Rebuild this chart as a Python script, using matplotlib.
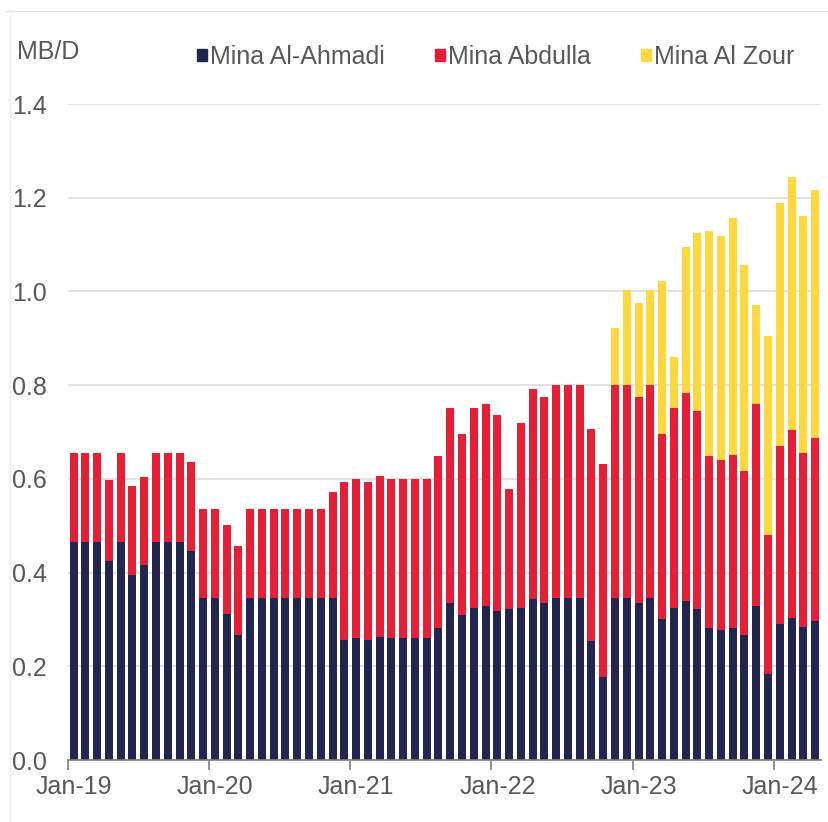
import matplotlib
matplotlib.use("Agg")
import matplotlib.pyplot as plt
from matplotlib.lines import Line2D
from matplotlib.patches import Patch
import numpy as np

# monthly values, Jan-19 .. Apr-24 (MB/D)
months = [f"{m}-{y}" for y in range(19, 25) for m in
          ["Jan", "Feb", "Mar", "Apr", "May", "Jun",
           "Jul", "Aug", "Sep", "Oct", "Nov", "Dec"]][:64]

ahmadi = [0.466, 0.466, 0.466, 0.424, 0.466, 0.394, 0.416, 0.466, 0.466, 0.466, 0.446, 0.346,
          0.346, 0.312, 0.267, 0.346, 0.346, 0.346, 0.346, 0.346, 0.346, 0.346, 0.346, 0.256,
          0.260, 0.256, 0.263, 0.260, 0.260, 0.260, 0.260, 0.281, 0.336, 0.310, 0.325, 0.328,
          0.318, 0.322, 0.325, 0.343, 0.336, 0.346, 0.346, 0.346, 0.253, 0.178, 0.346, 0.346,
          0.336, 0.346, 0.301, 0.325, 0.339, 0.322, 0.281, 0.277, 0.281, 0.266, 0.328, 0.183,
          0.291, 0.304, 0.284, 0.297]

# cumulative top of the red segment (Ahmadi + Abdulla)
abdulla_top = [0.656, 0.656, 0.656, 0.597, 0.656, 0.584, 0.605, 0.656, 0.656, 0.656, 0.636, 0.536,
               0.536, 0.502, 0.457, 0.536, 0.536, 0.536, 0.536, 0.536, 0.536, 0.536, 0.571, 0.593,
               0.600, 0.593, 0.607, 0.600, 0.600, 0.600, 0.600, 0.648, 0.752, 0.696, 0.752, 0.760,
               0.736, 0.578, 0.719, 0.791, 0.775, 0.800, 0.800, 0.800, 0.707, 0.631, 0.800, 0.800,
               0.775, 0.800, 0.696, 0.752, 0.784, 0.744, 0.648, 0.640, 0.650, 0.616, 0.760, 0.480,
               0.671, 0.704, 0.655, 0.687]

# total bar height (all three terminals)
total = [None] * 46 + [0.923, 1.004, 0.975, 1.004, 1.023, 0.860, 1.094, 1.125, 1.129, 1.119,
                       1.157, 1.057, 0.972, 0.905, 1.189, 1.244, 1.160, 1.216]

ahmadi = np.array(ahmadi)
abdulla = np.array(abdulla_top) - ahmadi
zour = np.array([0 if t is None else t for t in total])
zour = np.where(zour > 0, zour - np.array(abdulla_top), 0)

NAVY = "#22264f"
RED = "#e61e36"
YELLOW = "#ffd83d"
TXT = "#595959"
FS = 18

plt.rcParams["font.family"] = ["Liberation Sans", "DejaVu Sans"]

fig = plt.figure(figsize=(8.29, 8.22), dpi=100)
ax = fig.add_axes([67.7 / 829, 1 - 760 / 822, (821 - 67.7) / 829, (760 - 104) / 822])

x = np.arange(len(ahmadi))
w = 0.68
ax.bar(x, ahmadi, w, color=NAVY, zorder=3)
ax.bar(x, abdulla, w, bottom=ahmadi, color=RED, zorder=3)
ax.bar(x, zour, w, bottom=ahmadi + abdulla, color=YELLOW, zorder=3)

ax.set_xlim(-0.5, len(x) - 0.5)
ax.set_ylim(0, 1.4)
ax.set_yticks(np.arange(0, 1.41, 0.2))
ax.set_yticklabels([f"{v:.1f}" for v in np.arange(0, 1.41, 0.2)])
ax.yaxis.grid(True, color="#e0e0e0", linewidth=1.3, zorder=0)
ax.tick_params(axis="y", length=0, pad=15, labelsize=FS, labelcolor=TXT)

ax.set_xticks(np.arange(-0.5, len(x), 12))
ax.set_xticklabels([])
ax.set_xticks(np.arange(0, len(x), 12), minor=True)
ax.set_xticklabels([months[i] for i in range(0, len(x), 12)], minor=True)
ax.tick_params(axis="x", which="major", length=7, width=1.2, color="#7f7f7f")
ax.tick_params(axis="x", which="minor", length=0, pad=11, labelsize=FS, labelcolor=TXT)

for s in ["top", "right", "left"]:
    ax.spines[s].set_visible(False)
ax.spines["bottom"].set_color("#7f7f7f")
ax.spines["bottom"].set_linewidth(1.2)
ax.spines["bottom"].set_zorder(4)

fig.text(17 / 829, 1 - 52 / 822, "MB/D", ha="left", va="center", fontsize=FS, color=TXT)

handles = [Patch(color=NAVY), Patch(color=RED), Patch(color=YELLOW)]
fig.legend(handles, ["Mina Al-Ahmadi", "Mina Abdulla", "Mina Al Zour"],
           loc="center", bbox_to_anchor=(496 / 829, 1 - 57 / 822), ncol=3, frameon=False,
           fontsize=FS, labelcolor=TXT, handlelength=0.38, handleheight=0.38,
           handletextpad=0.15, columnspacing=2.0, borderpad=0, borderaxespad=0)

# light frame around the chart
fig.add_artist(Line2D([6 / 829, 1], [1 - 11 / 822] * 2, color="#e3e3e3", lw=1))
fig.add_artist(Line2D([10 / 829] * 2, [0, 1 - 11 / 822], color="#eeeeee", lw=1))

fig.savefig("out.png", dpi=100)
